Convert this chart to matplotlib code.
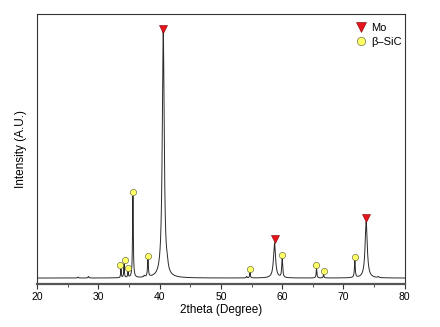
import numpy as np
import matplotlib.pyplot as plt
from matplotlib.lines import Line2D

plt.rcParams['font.family'] = ['Liberation Sans', 'DejaVu Sans']

# peak list: position (deg), height (a.u.), half width (deg)
peak_pos = [26.7, 28.4, 33.7, 34.2, 34.85, 35.65, 37.5, 38.1, 40.6, 41.25,
            54.2, 54.75, 58.75, 60.0, 65.6, 66.75, 71.85, 73.7, 75.7]
peak_height = [4, 6, 35, 55, 26, 330, 6, 74, 1000, 22,
               6, 22, 142, 78, 38, 14, 70, 228, 4]
peak_width = [0.08, 0.08, 0.06, 0.06, 0.06, 0.07, 0.1, 0.08, 0.19, 0.14,
              0.08, 0.07, 0.2, 0.09, 0.07, 0.07, 0.08, 0.21, 0.1]

# phase markers
mo_x = [40.55, 58.75, 73.65]
mo_y = [1010, 160, 245]
sic_x = [33.5, 34.35, 34.9, 35.65, 38.05, 54.7, 60.0, 65.55, 66.75, 71.85]
sic_y = [51, 72, 42, 348, 89, 35, 94, 51, 28, 84]


def main():
    tt = np.arange(20, 80.001, 0.01)
    inten = np.zeros_like(tt)
    for c, h, w in zip(peak_pos, peak_height, peak_width):
        inten += h / (1 + ((tt - c) / w) ** 2)

    fig = plt.figure(figsize=(4.4, 3.27), dpi=100)
    ax = fig.add_axes([0.084, 0.1315, 0.836, 0.8255])
    ax.plot(tt, inten, color='#2a2a2a', lw=0.7)
    ax.plot(mo_x, mo_y, 'v', ms=6, color='#e8141c', mec='#7a0000', mew=0.4)
    ax.plot(sic_x, sic_y, 'o', ms=4.5, color='#ffff66', mec='#555533', mew=0.4)

    ax.set_xlim(20, 80)
    ax.set_ylim(-24, 1069)
    ax.set_xticks(range(20, 81, 10))
    ax.set_xticks(range(25, 80, 10), minor=True)
    ax.set_yticks([])
    ax.tick_params(axis='x', which='major', direction='out', length=3.5,
                   width=0.8, labelsize=7.5, pad=2, color='#333333')
    ax.tick_params(axis='x', which='minor', direction='out', length=2,
                   width=0.6, color='#333333')
    for s in ax.spines.values():
        s.set_color('#333333')
        s.set_linewidth(0.8)
    ax.spines['bottom'].set_linewidth(1.6)
    ax.spines['bottom'].set_color('#555555')

    ax.set_xlabel('2theta (Degree)', fontsize=8.5, labelpad=2)
    ax.set_ylabel('Intensity (A.U.)', fontsize=8.5, labelpad=7)

    handles = [Line2D([], [], ls='', marker='v', ms=7.5, color='#e8141c',
                      mec='#7a0000', mew=0.4),
               Line2D([], [], ls='', marker='o', ms=6, color='#ffff66',
                      mec='#555533', mew=0.4)]
    ax.legend(handles, ['Mo', 'β–SiC'], loc='upper right', frameon=False,
              fontsize=8, handletextpad=0.3, labelspacing=0.35,
              borderaxespad=0.3, handlelength=1.2, bbox_to_anchor=(1.013, 0.995))

    fig.savefig('out.png', dpi=100)


if __name__ == '__main__':
    main()
